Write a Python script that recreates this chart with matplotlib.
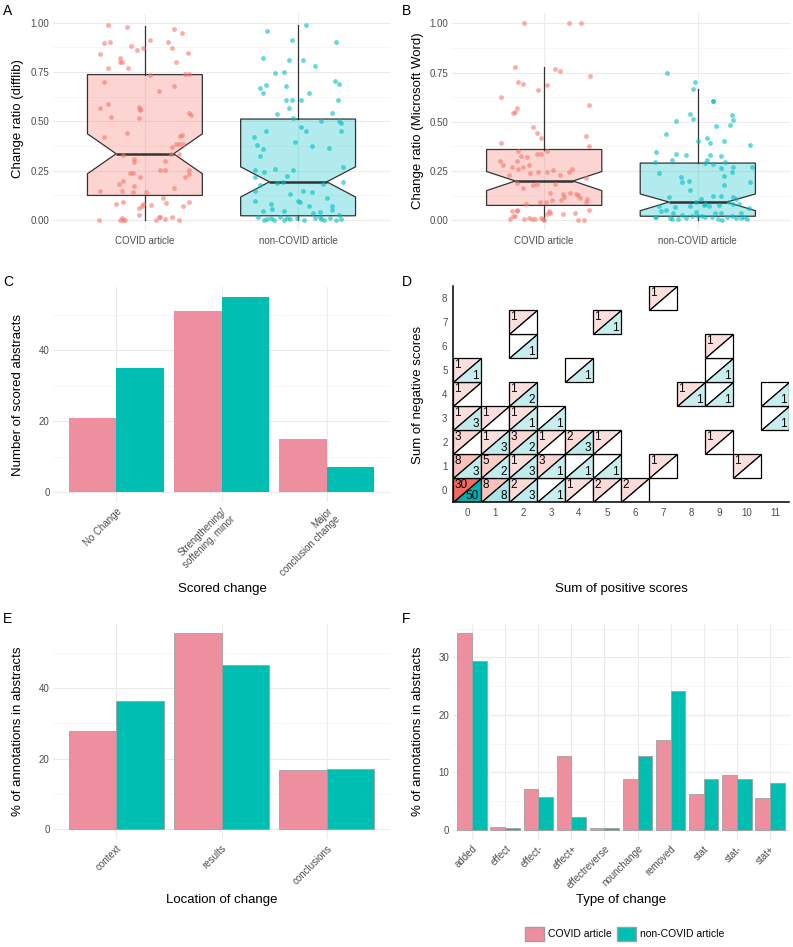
import matplotlib
matplotlib.use('Agg')
import matplotlib.pyplot as plt
from matplotlib.patches import Polygon, Patch
from matplotlib.ticker import MultipleLocator

plt.rcParams['font.family'] = ['Liberation Sans', 'DejaVu Sans']

groups = ['COVID article', 'non-COVID article']

# --- panel A: change ratio (difflib), points as (jitter offset, value)
a_covid_pts = [
    (-0.24, 0.99), (-0.12, 0.98), (0.19, 0.97), (0.24, 0.95), (-0.27, 0.895), (-0.23, 0.90),
    (0.15, 0.90), (0.18, 0.87), (-0.29, 0.84), (-0.09, 0.88), (-0.05, 0.86), (-0.01, 0.87),
    (0.03, 0.91), (0.28, 0.845), (-0.16, 0.82), (-0.16, 0.80), (-0.15, 0.80), (-0.24, 0.77),
    (-0.11, 0.77), (0.20, 0.80), (0.29, 0.74), (0.26, 0.74), (0.03, 0.735), (-0.27, 0.70),
    (0.09, 0.655), (0.19, 0.68), (-0.29, 0.57), (-0.24, 0.59), (-0.22, 0.52), (-0.04, 0.575),
    (-0.03, 0.565), (-0.03, 0.56), (-0.04, 0.515), (0.29, 0.545), (0.30, 0.53), (-0.12, 0.44),
    (-0.27, 0.42), (0.23, 0.425), (0.24, 0.43), (0.18, 0.37), (0.20, 0.385), (0.22, 0.385),
    (0.25, 0.385), (0.17, 0.335), (0.22, 0.335), (-0.14, 0.33), (-0.07, 0.31), (-0.07, 0.295),
    (0.13, 0.30), (0.10, 0.255), (0.13, 0.255), (0.29, 0.255), (0.29, 0.235), (-0.10, 0.24),
    (-0.08, 0.24), (-0.03, 0.22), (-0.17, 0.185), (-0.14, 0.20), (0.26, 0.22), (-0.29, 0.15),
    (-0.15, 0.145), (-0.08, 0.14), (-0.07, 0.175), (0.01, 0.14), (0.19, 0.165), (-0.19, 0.08),
    (-0.14, 0.09), (-0.01, 0.08), (-0.02, 0.07), (-0.04, 0.06), (0.12, 0.11), (0.14, 0.085),
    (0.25, 0.07), (0.29, 0.09), (-0.04, 0.025), (0.04, 0.075), (-0.30, 0.0), (-0.16, 0.0),
    (-0.15, 0.01), (-0.14, 0.0), (-0.13, 0.0), (0.07, 0.0), (0.09, 0.015), (0.10, 0.015),
    (0.13, 0.005), (0.18, 0.015), (0.22, 0.0),
]
a_noncovid_pts = [
    (0.05, 0.99), (-0.20, 0.96), (-0.04, 0.91), (0.25, 0.90), (-0.23, 0.82), (-0.06, 0.81),
    (0.03, 0.81), (0.11, 0.78), (-0.09, 0.75), (-0.15, 0.745), (-0.08, 0.68), (-0.25, 0.67),
    (-0.21, 0.685), (-0.23, 0.645), (0.24, 0.705), (0.27, 0.69), (0.07, 0.645), (-0.08, 0.61),
    (-0.04, 0.61), (0.02, 0.61), (-0.06, 0.57), (0.26, 0.61), (-0.14, 0.54), (0.22, 0.545),
    (-0.03, 0.515), (0.15, 0.50), (0.02, 0.47), (0.27, 0.50), (0.28, 0.49), (-0.29, 0.42),
    (-0.27, 0.38), (-0.23, 0.36), (-0.21, 0.45), (0.05, 0.45), (0.28, 0.45), (-0.02, 0.395),
    (0.09, 0.375), (0.20, 0.365), (-0.25, 0.325), (-0.28, 0.255), (-0.22, 0.245), (-0.15, 0.26),
    (-0.03, 0.255), (-0.07, 0.225), (-0.28, 0.22), (0.29, 0.27), (0.29, 0.195), (-0.25, 0.18),
    (-0.14, 0.19), (-0.10, 0.195), (0.16, 0.185), (-0.28, 0.145), (0.03, 0.15), (-0.05, 0.13),
    (0.09, 0.14), (0.19, 0.11), (-0.18, 0.08), (-0.28, 0.095), (-0.17, 0.055), (-0.09, 0.045),
    (0.00, 0.095), (0.01, 0.09), (0.07, 0.07), (0.10, 0.035), (0.14, 0.04), (0.22, 0.07),
    (0.22, 0.05), (0.27, 0.025), (-0.26, 0.015), (-0.22, 0.0), (-0.20, 0.005), (-0.18, 0.01),
    (-0.16, 0.0), (-0.12, 0.015), (-0.09, 0.0), (-0.07, 0.01), (-0.05, 0.005), (-0.01, 0.01),
    (0.04, 0.0), (0.11, 0.01), (0.15, 0.005), (0.17, 0.0), (0.21, 0.01), (0.25, 0.0),
    (0.28, 0.005), (-0.23, 0.045), (0.14, 0.015),
]
a_box = [
    dict(q1=0.125, med=0.336, q3=0.737, whislo=0.0, whishi=0.985, cilo=0.235, cihi=0.437),
    dict(q1=0.022, med=0.194, q3=0.512, whislo=0.0, whishi=0.99, cilo=0.117, cihi=0.27),
]

# --- panel B: change ratio (Microsoft Word)
b_covid_pts = [
    (-0.13, 1.00), (0.16, 1.00), (0.24, 1.00), (-0.19, 0.78), (0.07, 0.77), (0.10, 0.76),
    (0.30, 0.73), (-0.17, 0.70), (-0.14, 0.69), (-0.28, 0.625), (-0.04, 0.66), (0.02, 0.685),
    (-0.18, 0.57), (-0.19, 0.55), (-0.20, 0.545), (0.29, 0.585), (-0.07, 0.475), (-0.05, 0.445),
    (-0.02, 0.415), (0.27, 0.43), (-0.28, 0.39), (0.29, 0.375), (-0.17, 0.35), (0.02, 0.35),
    (-0.29, 0.30), (-0.27, 0.28), (-0.18, 0.30), (-0.15, 0.325), (-0.11, 0.32), (-0.05, 0.335),
    (-0.02, 0.335), (-0.21, 0.27), (-0.14, 0.27), (-0.10, 0.28), (-0.23, 0.23), (-0.17, 0.26),
    (0.06, 0.255), (0.10, 0.23), (0.16, 0.245), (0.18, 0.26), (-0.09, 0.24), (-0.04, 0.245),
    (0.02, 0.245), (0.27, 0.215), (-0.18, 0.19), (-0.07, 0.18), (-0.05, 0.185), (0.07, 0.185),
    (-0.14, 0.165), (0.04, 0.14), (0.12, 0.135), (0.13, 0.12), (0.17, 0.14), (0.21, 0.135),
    (0.22, 0.13), (0.28, 0.105), (0.27, 0.09), (-0.12, 0.08), (-0.03, 0.09), (0.01, 0.09),
    (0.05, 0.10), (0.11, 0.10), (0.23, 0.115), (-0.18, 0.05), (-0.18, 0.045), (-0.21, 0.045),
    (0.03, 0.045), (0.04, 0.035), (0.12, 0.03), (0.20, 0.035), (0.29, 0.05), (-0.20, 0.02),
    (-0.19, 0.02), (-0.10, 0.01), (-0.22, 0.005), (-0.13, 0.005), (-0.08, 0.005), (-0.06, 0.005),
    (-0.02, 0.01), (-0.01, 0.005), (0.00, 0.0), (0.02, 0.03), (0.22, 0.0), (0.26, 0.0),
]
b_noncovid_pts = [
    (-0.20, 0.75), (-0.02, 0.70), (-0.03, 0.665), (0.10, 0.605), (0.10, 0.605), (-0.05, 0.54),
    (-0.03, 0.515), (-0.14, 0.505), (0.22, 0.535), (0.23, 0.51), (0.12, 0.48), (0.21, 0.485),
    (-0.21, 0.44), (0.00, 0.40), (0.06, 0.415), (0.08, 0.39), (0.17, 0.40), (0.34, 0.38),
    (-0.27, 0.345), (-0.14, 0.335), (-0.08, 0.33), (0.08, 0.33), (0.15, 0.325), (0.06, 0.305),
    (0.05, 0.29), (0.18, 0.295), (0.23, 0.27), (0.35, 0.27), (-0.28, 0.295), (-0.17, 0.305),
    (-0.25, 0.24), (-0.10, 0.195), (-0.06, 0.20), (0.15, 0.265), (0.34, 0.195), (0.17, 0.225),
    (-0.11, 0.22), (0.10, 0.285), (0.22, 0.245), (0.17, 0.18), (-0.19, 0.12), (-0.05, 0.155),
    (-0.01, 0.09), (0.02, 0.11), (0.05, 0.08), (0.10, 0.125), (0.15, 0.125), (0.20, 0.09),
    (0.23, 0.12), (0.25, 0.105), (0.27, 0.08), (-0.25, 0.07), (-0.21, 0.05), (-0.15, 0.065),
    (-0.05, 0.07), (0.04, 0.075), (0.07, 0.07), (0.14, 0.075), (0.23, 0.08), (-0.28, 0.015),
    (-0.27, 0.015), (-0.24, 0.045), (-0.18, 0.01), (-0.17, 0.005), (-0.13, 0.005), (-0.08, 0.01),
    (-0.04, 0.02), (-0.01, 0.04), (0.00, 0.02), (0.03, 0.02), (0.05, 0.015), (0.09, 0.015),
    (0.13, 0.005), (0.16, 0.0), (0.19, 0.015), (0.22, 0.02), (0.25, 0.01), (0.28, 0.01),
    (0.28, 0.035), (0.30, 0.015), (0.32, 0.005), (0.33, 0.06), (-0.16, 0.035), (-0.10, 0.025),
    (0.11, 0.035), (0.15, 0.035),
]
b_box = [
    dict(q1=0.075, med=0.199, q3=0.359, whislo=0.0, whishi=0.778, cilo=0.150, cihi=0.247),
    dict(q1=0.020, med=0.092, q3=0.290, whislo=0.0, whishi=0.664, cilo=0.048, cihi=0.133),
]

# --- panel C: scored change counts
c_cats = ['No Change', 'Strengthening/\nsoftening, minor', 'Major\nconclusion change']
c_covid = [21, 51, 15]
c_noncovid = [35, 55, 7]

# --- panel D: positive vs negative score sums (pos, neg, covid n, non-covid n)
d_pos = [0, 1, 2, 3, 4, 5, 6, 0, 1, 2, 3, 4, 5, 7, 10, 0, 1, 2, 3, 4, 5, 9,
         0, 1, 2, 3, 11, 0, 2, 8, 9, 11, 0, 4, 9, 2, 9, 2, 5, 7]
d_neg = [0, 0, 0, 0, 0, 0, 0, 1, 1, 1, 1, 1, 1, 1, 1, 2, 2, 2, 2, 2, 2, 2,
         3, 3, 3, 3, 3, 4, 4, 4, 4, 4, 5, 5, 5, 6, 6, 7, 7, 8]
d_covid = [30, 8, 2, 0, 1, 2, 2, 8, 5, 1, 3, 0, 0, 1, 1, 3, 1, 3, 1, 2, 1, 1,
           1, 1, 1, 0, 0, 1, 1, 1, 0, 0, 1, 0, 0, 0, 1, 1, 1, 1]
d_noncovid = [50, 8, 3, 1, 0, 0, 0, 3, 2, 3, 1, 1, 1, 0, 0, 0, 3, 2, 0, 3, 0, 0,
              3, 0, 1, 1, 1, 0, 2, 1, 1, 1, 1, 1, 1, 1, 0, 0, 1, 0]

# --- panel E: location of change (%)
e_cats = ['context', 'results', 'conclusions']
e_covid = [27.9, 55.4, 16.7]
e_noncovid = [36.3, 46.6, 17.1]

# --- panel F: type of change (%)
f_cats = ['added', 'effect', 'effect-', 'effect+', 'effectreverse', 'nounchange',
          'removed', 'stat', 'stat-', 'stat+']
f_covid = [34.2, 0.45, 7.1, 12.9, 0.3, 8.8, 15.6, 6.15, 9.5, 5.5]
f_noncovid = [29.3, 0.3, 5.7, 2.2, 0.3, 12.8, 24.1, 8.8, 8.8, 8.2]

PT_COL = ['#F8766D', '#00BFC4']
BAR_COL = ['#EE8FA0', '#00BFB2']
TICK_COL = '#4D4D4D'

W, H = 793, 947
fig = plt.figure(figsize=(W / 100, H / 100), dpi=100)


def px_axes(l, t, r, b):
    return fig.add_axes([l / W, 1 - b / H, (r - l) / W, (b - t) / H])


def minimal(ax):
    for s in ax.spines.values():
        s.set_visible(False)
    ax.tick_params(which='both', length=0, labelsize=7, labelcolor=TICK_COL)
    ax.tick_params(axis='x', pad=4)
    ax.tick_params(axis='y', pad=2.5)
    ax.grid(True, which='major', color='#EBEBEB', lw=0.8)
    ax.grid(True, which='minor', axis='y', color='#F3F3F3', lw=0.5)
    ax.set_axisbelow(True)


def box_panel(ax, stats, pts_list):
    minimal(ax)
    bp = ax.bxp(stats, positions=[1, 2], widths=0.75, shownotches=True, patch_artist=True,
                showcaps=False, showfliers=False,
                boxprops=dict(edgecolor='#333333', lw=0.9),
                medianprops=dict(color='#333333', lw=1.8),
                whiskerprops=dict(color='#333333', lw=0.9))
    for patch, col in zip(bp['boxes'], PT_COL):
        patch.set_facecolor(matplotlib.colors.to_rgba(col, 0.3))
        patch.set_zorder(2)
    for i, pts in enumerate(pts_list):
        xs = [i + 1 + p[0] for p in pts]
        ys = [p[1] for p in pts]
        ax.scatter(xs, ys, s=12, color=PT_COL[i], alpha=0.6, lw=0, zorder=3)
    ax.set_xlim(0.4, 2.6)
    ax.set_ylim(-0.05, 1.05)
    ax.set_xticks([1, 2])
    ax.set_xticklabels(groups)
    ax.set_yticks([0, 0.25, 0.5, 0.75, 1.0])
    ax.set_yticklabels(['0.00', '0.25', '0.50', '0.75', '1.00'])
    ax.yaxis.set_minor_locator(MultipleLocator(0.125))


def bar_panel(ax, cats, cov, non, ymax, major, edge=None):
    minimal(ax)
    x = list(range(1, len(cats) + 1))
    kw = dict(width=0.45, zorder=2)
    if edge:
        kw.update(edgecolor=edge, lw=0.6)
    ax.bar([v - 0.225 for v in x], cov, color=BAR_COL[0], **kw)
    ax.bar([v + 0.225 for v in x], non, color=BAR_COL[1], **kw)
    ax.set_xlim(0.4, len(cats) + 0.6)
    ax.set_ylim(-ymax * 0.05, ymax * 1.05)
    ax.set_xticks(x)
    ax.set_xticklabels(cats, rotation=45, ha='right', va='top', rotation_mode='anchor')
    ax.tick_params(axis='x', pad=3)
    ax.yaxis.set_major_locator(MultipleLocator(major))
    ax.yaxis.set_minor_locator(MultipleLocator(major / 2))


# A
axA = px_axes(53, 12.8, 390, 230)
box_panel(axA, a_box, [a_covid_pts, a_noncovid_pts])
# B
axB = px_axes(452, 13.5, 790, 230)
box_panel(axB, b_box, [b_covid_pts, b_noncovid_pts])

# C
axC = px_axes(53, 287, 390, 502)
bar_panel(axC, c_cats, c_covid, c_noncovid, max(c_covid + c_noncovid), 20)

# D
axD = px_axes(453, 286, 789, 502)
cmax = max(d_covid)
nmax = max(d_noncovid)


def shade(col, n, nmax_):
    if n == 0:
        return 'white'
    f = 0.22 + 0.78 * (n - 1) / (nmax_ - 1)
    rgb = matplotlib.colors.to_rgb(col)
    return tuple(1 - f * (1 - c) for c in rgb)


for x, y, nc, nn in zip(d_pos, d_neg, d_covid, d_noncovid):
    upper = [(x - 0.5, y - 0.5), (x - 0.5, y + 0.5), (x + 0.5, y + 0.5)]
    lower = [(x - 0.5, y - 0.5), (x + 0.5, y - 0.5), (x + 0.5, y + 0.5)]
    axD.add_patch(Polygon(upper, closed=True, facecolor=shade('#F36A5E', nc, cmax),
                          edgecolor='black', lw=0.9))
    axD.add_patch(Polygon(lower, closed=True, facecolor=shade('#00AFB2', nn, nmax),
                          edgecolor='black', lw=0.9))
    if nc > 0:
        axD.text(x - 0.45, y + 0.47, str(nc), ha='left', va='top', fontsize=8.5)
    if nn > 0:
        axD.text(x + 0.42, y - 0.5, str(nn), ha='right', va='bottom', fontsize=8.5)
axD.set_xlim(-0.5, 11.5)
axD.set_ylim(-0.5, 8.5)
axD.set_xticks(range(0, 12))
axD.set_yticks(range(0, 9))
for s in ['top', 'right']:
    axD.spines[s].set_visible(False)
for s in ['left', 'bottom']:
    axD.spines[s].set_linewidth(1.1)
axD.tick_params(length=0, labelsize=7, labelcolor=TICK_COL, pad=4)

# E
axE = px_axes(53, 623.7, 390, 839)
bar_panel(axE, e_cats, e_covid, e_noncovid, max(e_covid + e_noncovid), 20, edge='#A0A0A0')

# F
axF = px_axes(452.5, 623.5, 789.5, 839.5)
bar_panel(axF, f_cats, f_covid, f_noncovid, max(f_covid + f_noncovid), 10, edge='#A0A0A0')


# titles / labels in pixel positions
def ftext(x, y, s, **kw):
    fig.text(x / W, 1 - y / H, s, **kw)


for letter, x, y in [('A', 3, 4), ('B', 402, 4), ('C', 3, 275), ('D', 402, 275),
                     ('E', 3, 612), ('F', 402, 612)]:
    ftext(x, y, letter, fontsize=10, va='top', ha='left')

for s, x, y in [('Change ratio (difflib)', 18, 119), ('Change ratio (Microsoft Word)', 418, 121),
                ('Number of scored abstracts', 18, 395), ('Sum of negative scores', 418, 395),
                ('% of annotations in abstracts', 18, 731), ('% of annotations in abstracts', 418, 731)]:
    ftext(x, y, s, fontsize=9.5, rotation=90, ha='center', va='center')

for s, x, y in [('Scored change', 222, 589), ('Sum of positive scores', 621, 589),
                ('Location of change', 222, 900), ('Type of change', 621, 900)]:
    ftext(x, y, s, fontsize=9.5, ha='center', va='center')

handles = [Patch(facecolor=BAR_COL[0], edgecolor='#A0A0A0'),
           Patch(facecolor=BAR_COL[1], edgecolor='#A0A0A0')]
fig.legend(handles, groups, loc='center', bbox_to_anchor=(625 / W, 1 - 934 / H), ncol=2,
           frameon=False, fontsize=7.5, handlelength=1.8, handleheight=1.8,
           columnspacing=0.5, handletextpad=0.4)

fig.savefig('out.png', dpi=100)
